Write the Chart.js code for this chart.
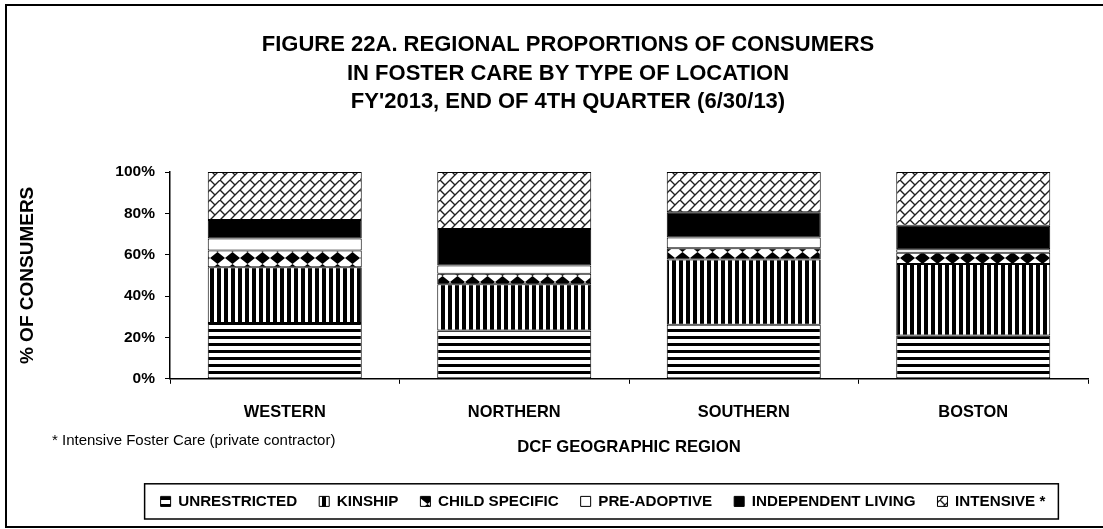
<!DOCTYPE html>
<html>
<head>
<meta charset="utf-8">
<script src="https://cdn.jsdelivr.net/npm/chart.js@4"></script>
<style>
  html, body { margin: 0; padding: 0; background: #fff; }
  #wrap { position: relative; width: 1103px; height: 529px; }
</style>
</head>
<body>
<div id="wrap"><canvas id="myChart"></canvas></div>
<script>
'use strict';

// data (percent of consumers)
const regions = ['WESTERN', 'NORTHERN', 'SOUTHERN', 'BOSTON'];
const unrestricted = [27.0, 23.4, 26.1, 20.9];
const kinship = [27.0, 22.3, 31.6, 34.6];
const childSpecific = [8.1, 5.1, 5.4, 5.5];
const preAdoptive = [5.7, 4.0, 5.2, 1.6];
const independentLiving = [9.0, 17.6, 12.2, 11.4];
const intensive = [23.2, 27.6, 19.5, 26.0];
const yTicks = [0, 20, 40, 60, 80, 100];

const titleLines = [
    'FIGURE 22A. REGIONAL PROPORTIONS OF CONSUMERS',
    'IN FOSTER CARE BY TYPE OF LOCATION',
    "FY'2013, END OF 4TH QUARTER (6/30/13)"
];
const footnote = '* Intensive Foster Care (private contractor)';

const FONT = "'Liberation Sans', Arial, sans-serif";

/**
 * black & white fill patterns (like the old Excel ones)
 */
function makePattern(w, h, draw) {
    const c = document.createElement('canvas');
    c.width = w;
    c.height = h;
    const g = c.getContext('2d');
    g.fillStyle = '#fff';
    g.fillRect(0, 0, w, h);
    draw(g);
    return g.createPattern(c, 'repeat');
}

const hStripes = makePattern(8, 7, g => {
    g.fillStyle = '#000';
    g.fillRect(0, 0, 8, 3);
});
const vStripes = makePattern(7, 8, g => {
    g.fillStyle = '#000';
    g.fillRect(0, 0, 4, 8);
});
const diamonds = makePattern(15, 12, g => {
    g.fillStyle = '#000';
    g.beginPath();
    g.moveTo(7.5, 0);
    g.lineTo(15, 6);
    g.lineTo(7.5, 12);
    g.lineTo(0, 6);
    g.closePath();
    g.fill();
});
const bricks = makePattern(20, 20, g => {
    g.strokeStyle = '#222';
    g.lineWidth = 1.4;
    g.beginPath();
    // long diagonals "/"
    g.moveTo(-2, 12); g.lineTo(12, -2);
    g.moveTo(-2, 22); g.lineTo(22, -2);
    g.moveTo(8, 22); g.lineTo(22, 8);
    // short joints "\"
    g.moveTo(0, 0); g.lineTo(5, 5);
    g.moveTo(10, 10); g.lineTo(15, 15);
    g.moveTo(10, 0); g.lineTo(15, 5);
    g.moveTo(0, 10); g.lineTo(5, 15);
    g.stroke();
});

function series(label, data, fill) {
    return {
        label: label,
        data: data,
        backgroundColor: fill,
        borderColor: '#000',
        borderWidth: 1,
        borderSkipped: false
    };
}

/**
 * title, footnote, frame and legend box drawn by a small plugin
 */
const LEGEND_SHIFT = 59;
const decorations = {
    id: 'decorations',
    afterLayout(chart) {
        // legend sits under the plot, not under the whole canvas
        chart.legend.left += LEGEND_SHIFT;
        chart.legend.right += LEGEND_SHIFT;
    },
    afterDraw(chart) {
        const ctx = chart.ctx;
        ctx.save();
        ctx.fillStyle = '#000';
        ctx.textAlign = 'center';
        ctx.textBaseline = 'middle';
        ctx.font = 'bold 22px ' + FONT;
        titleLines.forEach((t, i) => ctx.fillText(t, 568, 45 + i * 28.5));

        ctx.textAlign = 'left';
        ctx.font = '15px ' + FONT;
        ctx.fillText(footnote, 52, 441);

        // legend frame
        const boxes = chart.legend.legendHitBoxes;
        if (boxes && boxes.length) {
            const l = Math.min(...boxes.map(b => b.left)) - 16;
            const r = Math.max(...boxes.map(b => b.left + b.width)) + 13;
            const t = boxes[0].top - 10;
            const b = boxes[0].top + boxes[0].height + 10;
            ctx.strokeStyle = '#000';
            ctx.lineWidth = 1.5;
            ctx.strokeRect(l, t, r - l, b - t);
        }

        // outer frame
        ctx.lineWidth = 2;
        ctx.strokeRect(6, 5, 1110, 522);
        ctx.restore();
    }
};

let ctx = document.getElementById('myChart');
let myChart = new Chart(ctx, {
    type: 'bar',
    data: {
        labels: regions,
        datasets: [
            series('UNRESTRICTED', unrestricted, hStripes),
            series('KINSHIP', kinship, vStripes),
            series('CHILD SPECIFIC', childSpecific, diamonds),
            series('PRE-ADOPTIVE', preAdoptive, '#fff'),
            series('INDEPENDENT LIVING', independentLiving, '#000'),
            series('INTENSIVE *', intensive, bricks)
        ]
    },
    plugins: [decorations],
    options: {
        responsive: true,
        maintainAspectRatio: false,
        animation: false,
        layout: {
            padding: { top: 172, right: 15, bottom: 10, left: 0 }
        },
        datasets: {
            bar: { barPercentage: 0.671, categoryPercentage: 1 }
        },
        plugins: {
            title: { display: false },
            tooltip: { enabled: false },
            legend: {
                position: 'bottom',
                labels: {
                    color: '#000',
                    font: { family: FONT, size: 15.2, weight: 'bold' },
                    boxWidth: 10,
                    boxHeight: 10,
                    padding: 22
                }
            }
        },
        scales: {
            x: {
                stacked: true,
                afterFit(scale) { scale.height = 93; },
                grid: {
                    drawOnChartArea: false,
                    offset: true,
                    color: '#000',
                    tickLength: 5
                },
                border: { color: '#000', width: 1.5 },
                ticks: {
                    color: '#000',
                    padding: 19,
                    font: { family: FONT, size: 16.4, weight: 'bold' }
                },
                title: {
                    display: true,
                    text: 'DCF GEOGRAPHIC REGION',
                    color: '#000',
                    font: { family: FONT, size: 16.7, weight: 'bold' },
                    padding: { top: 0, bottom: 14 }
                }
            },
            y: {
                stacked: true,
                min: 0,
                max: 100,
                afterFit(scale) { scale.width = 170; },
                afterBuildTicks(scale) {
                    scale.ticks = yTicks.map(v => ({ value: v }));
                },
                grid: {
                    drawOnChartArea: false,
                    color: '#000',
                    tickLength: 5
                },
                border: { color: '#000', width: 1.5 },
                ticks: {
                    color: '#000',
                    padding: 10,
                    font: { family: FONT, size: 15.5, weight: 'bold' },
                    callback: v => v + '%'
                },
                title: {
                    display: true,
                    text: '% OF CONSUMERS',
                    color: '#000',
                    font: { family: FONT, size: 19, weight: 'bold' },
                    padding: { top: 16, bottom: 0 }
                }
            }
        }
    }
});
</script>
</body>
</html>
